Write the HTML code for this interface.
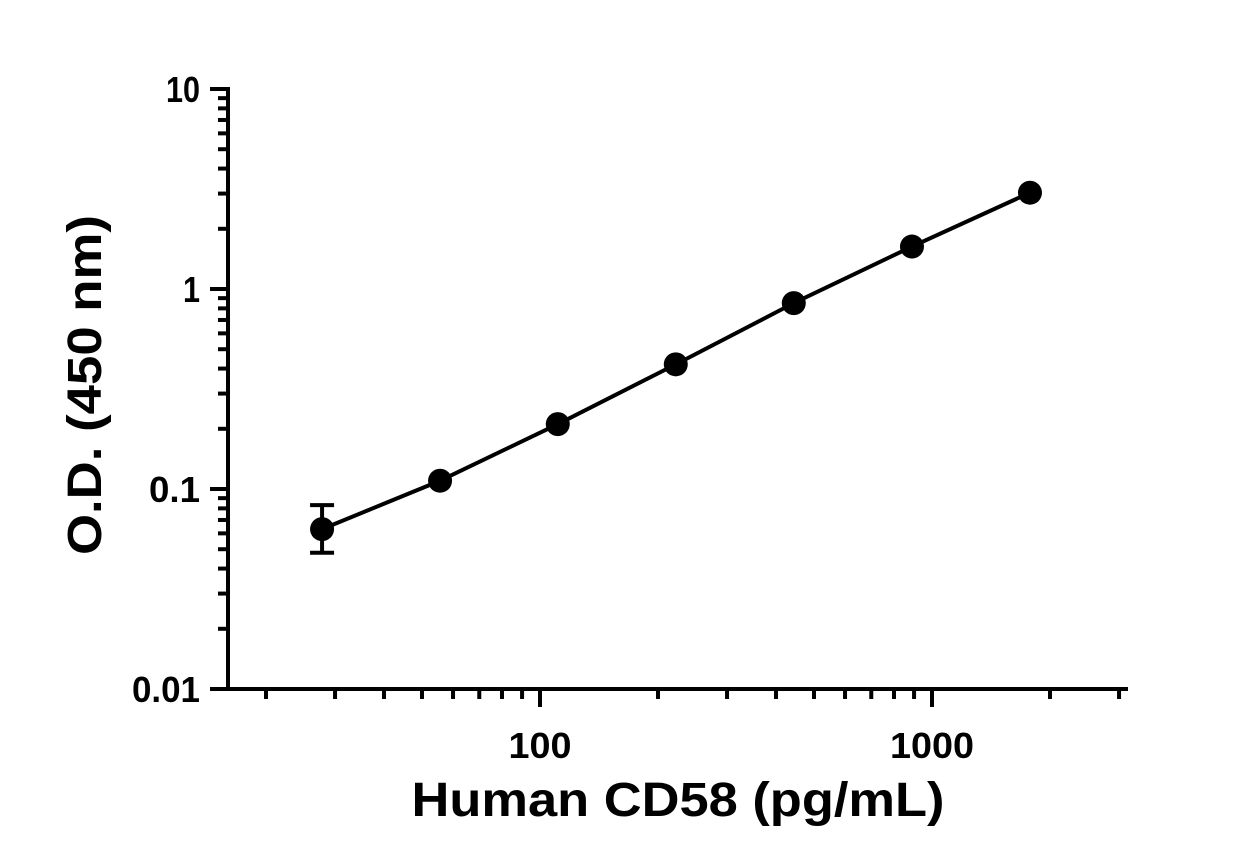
<!DOCTYPE html>
<html><head><meta charset="utf-8"><style>
html,body{margin:0;padding:0;background:#fff;}
svg{display:block;font-family:"Liberation Sans",Arial,sans-serif;font-weight:bold;}
</style></head><body>
<svg id="chart" width="1251" height="867" viewBox="0 0 1251 867">
<g id="axes"></g><g id="series"></g>
<text x="678" y="816" font-size="48" text-anchor="middle" textLength="533" lengthAdjust="spacingAndGlyphs">Human CD58 (pg/mL)</text>
<text transform="translate(101,385) rotate(-90)" font-size="48" text-anchor="middle" textLength="340" lengthAdjust="spacingAndGlyphs">O.D. (450 nm)</text>
</svg>
<script>
const concentrations = [27.8, 55.6, 111, 222, 444, 889, 1778];
const odValues = [0.063, 0.11, 0.211, 0.42, 0.85, 1.63, 3.03];
const errLow = [0.048, null, null, null, null, null, null];
const errHigh = [0.083, null, null, null, null, null, null];
const yTickValues = [0.01, 0.1, 1, 10];
const yTickLabels = ["0.01", "0.1", "1", "10"];
const xTickValues = [100, 1000];
const xTickLabels = ["100", "1000"];

const NS = "http://www.w3.org/2000/svg";
const xL = 228, xR = 1128, yB = 689, yT = 89;
function xs(v){ return 540 + (Math.log10(v) - 2) * 392; }
function ys(v){ return 689 - (Math.log10(v) + 2) * 200; }
function mk(tag, attrs, parent){ const e = document.createElementNS(NS, tag); for (const k in attrs) e.setAttribute(k, attrs[k]); parent.appendChild(e); return e; }
const axes = document.getElementById("axes"), ser = document.getElementById("series");
const sw = {stroke:"#000","stroke-width":4};

let yAxis = mk("line", Object.assign({x1:xL, x2:xL, y1:yT-2, y2:yB+2}, sw), axes);


let xAxis = mk("line", Object.assign({x1:xL-2, x2:xR, y1:yB, y2:yB}, sw), axes);



for (let d = -2; d <= 1; d++) {
  for (let m = 1; m <= 9; m++) {
    const v = m * Math.pow(10, d);
    if (v > 10.0001) continue;
    const y = ys(v);
    const len = m === 1 ? 18 : 10;
    const t = mk("line", Object.assign({x1:xL-len, x2:xL, y1:y, y2:y}, sw), axes);
    
    
  }
}
yTickValues.forEach((v, i) => {
  const lbl = yTickLabels[i];
  const t = mk("text", {x:200, y:ys(v)+13, "font-size":36, "text-anchor":"end", textLength: lbl.length*17, lengthAdjust:"spacingAndGlyphs"}, axes);
  t.textContent = lbl;
  
  
});
for (let d = 1; d <= 3; d++) {
  for (let m = 1; m <= 9; m++) {
    const v = m * Math.pow(10, d);
    const x = xs(v);
    if (x < xL + 5 || x > xR + 1) continue;
    const len = m === 1 ? 18 : 10;
    const t = mk("line", Object.assign({x1:x, x2:x, y1:yB, y2:yB+len}, sw), axes);
    
    
  }
}
xTickValues.forEach((v, i) => {
  const lbl = xTickLabels[i];
  const t = mk("text", {x:xs(v), y:758, "font-size":36, "text-anchor":"middle", textLength: lbl.length*21, lengthAdjust:"spacingAndGlyphs"}, axes);
  t.textContent = lbl;
  
  
});

const pts = concentrations.map((c, i) => xs(c) + "," + ys(odValues[i])).join(" ");
const pl = mk("polyline", {points:pts, fill:"none", stroke:"#000", "stroke-width":4, "stroke-linejoin":"round"}, ser);



concentrations.forEach((c, i) => {
  if (errLow[i] == null) return;
  const x = xs(c), y1 = ys(errHigh[i]), y2 = ys(errLow[i]);
  const g = mk("g", {}, ser);
  
  
  mk("line", Object.assign({x1:x, x2:x, y1:y1, y2:y2}, sw), g);
  mk("line", Object.assign({x1:x-12, x2:x+12, y1:y1, y2:y1}, sw), g);
  mk("line", Object.assign({x1:x-12, x2:x+12, y1:y2, y2:y2}, sw), g);
});
concentrations.forEach((c, i) => {
  const p = mk("circle", {cx:xs(c), cy:ys(odValues[i]), r:12, fill:"#000"}, ser);
  
  
});
</script>
</body></html>
